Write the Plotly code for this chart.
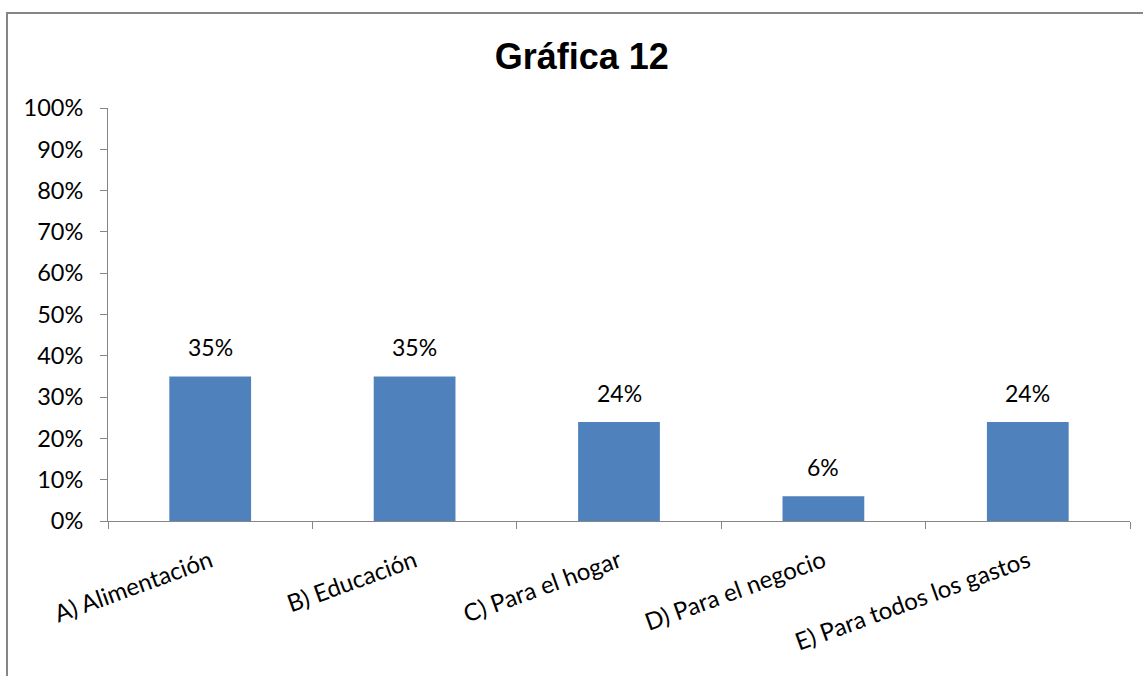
import plotly.graph_objects as go

categories = ["A) Alimentación", "B) Educación", "C) Para el hogar", "D) Para el negocio", "E) Para todos los gastos"]
values = [0.35, 0.35, 0.24, 0.06, 0.24]
labels = ["35%", "35%", "24%", "6%", "24%"]
ytick_vals = [i / 10 for i in range(11)]
ytick_text = [f"{i*10}%" for i in range(11)]

FONT = "Lato, Carlito, Calibri, sans-serif"

fig = go.Figure(go.Bar(
    x=categories, y=values,
    marker=dict(color="#4F81BD", line=dict(width=0)),
    hoverinfo="skip",
))

for c, v, t in zip(categories, values, labels):
    fig.add_annotation(x=c, y=v, text=t, showarrow=False, yanchor="bottom", yshift=13,
                       font=dict(family=FONT, size=23, color="#000000"))

fig.update_layout(
    width=1143, height=676,
    margin=dict(l=108, r=13, t=108, b=155),
    paper_bgcolor="white", plot_bgcolor="white",
    bargap=0.6,
    showlegend=False,
    title=dict(text="<b>Gráfica 12</b>", x=0.509, xanchor="center", y=1 - 56/676, yanchor="middle",
               font=dict(family="Liberation Sans, Arial, sans-serif", size=36, color="#000000")),
    font=dict(family=FONT, size=23, color="#000000"),
)
fig.update_yaxes(range=[0, 1], tickvals=ytick_vals, ticktext=ytick_text,
                 showgrid=False, zeroline=False,
                 showline=True, linecolor="#868686", linewidth=1,
                 ticks="outside", ticklen=7, tickcolor="#868686",
                 tickfont=dict(family=FONT, size=23.5, color="#000000"), ticklabelstandoff=12)
fig.update_xaxes(showgrid=False, showline=True, linecolor="#868686", linewidth=1,
                 ticks="outside", ticklen=7, tickcolor="#868686", tickson="boundaries",
                 tickangle=-20, ticklabelstandoff=16,
                 tickfont=dict(family=FONT, size=24, color="#000000"))

fig.add_shape(type="rect", xref="paper", yref="paper",
              x0=-101/1022, x1=1.2, y0=-1, y1=1 + 95/413,
              line=dict(color="#868686", width=2), fillcolor="rgba(0,0,0,0)", layer="below")

fig.write_html("out.html", config={"displayModeBar": False},
               post_script="document.body.style.margin='0';document.body.style.overflow='hidden';")
